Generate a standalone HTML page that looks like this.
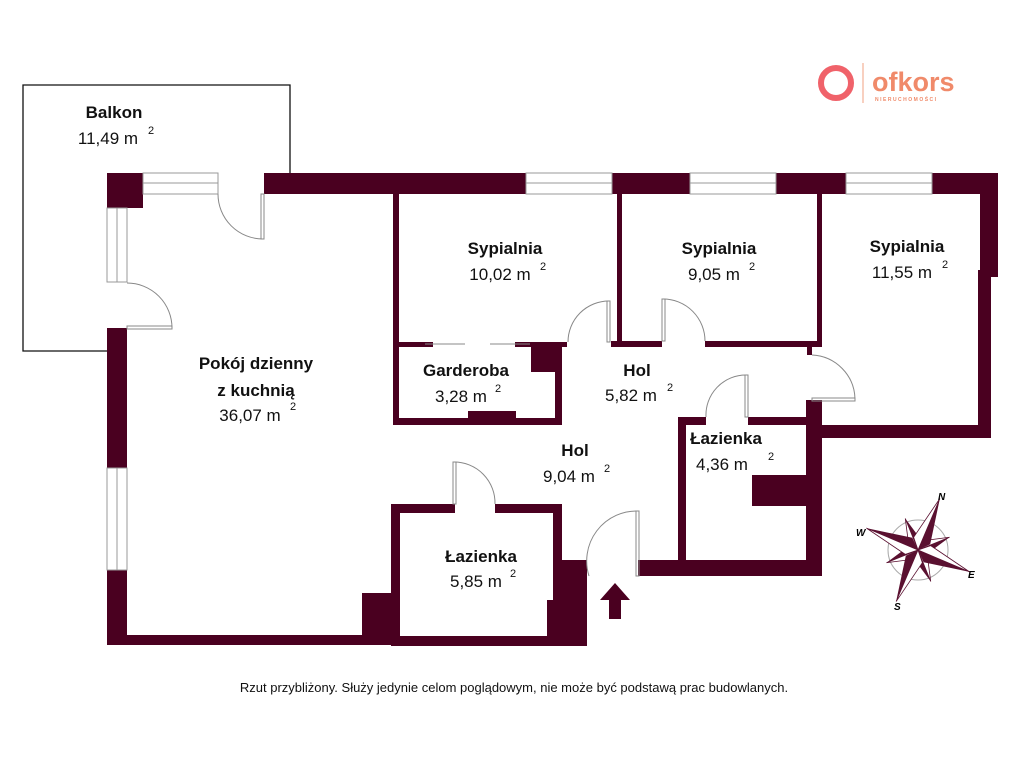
<!DOCTYPE html>
<html><head><meta charset="utf-8"><style>
html,body{margin:0;padding:0;background:#fff;width:1024px;height:768px;overflow:hidden}
svg{display:block}
.b{font:bold 17px "Liberation Sans",sans-serif;fill:#111}
.n{font:17px "Liberation Sans",sans-serif;fill:#111}
.s{font:11px "Liberation Sans",sans-serif;fill:#111}
</style></head><body>
<svg width="1024" height="768" viewBox="0 0 1024 768">
<defs>
<g id="kb"><polygon points="0,0 56,0 10,9" fill="#5a1030"/><polygon points="0,0 56,0 10,-9" fill="#fff" stroke="#5a1030" stroke-width="0.8"/></g>
<g id="ks"><polygon points="0,0 34,0 7,7" fill="#5a1030"/><polygon points="0,0 34,0 7,-7" fill="#fff" stroke="#5a1030" stroke-width="0.8"/></g>
</defs>
<polyline points="107,351 23,351 23,85 290,85 290,173" fill="none" stroke="#111" stroke-width="1.3"/>
<g fill="#4a0020">
<rect x="107" y="173" width="36" height="35"/>
<rect x="264" y="173" width="262" height="21"/>
<rect x="612" y="173" width="78" height="21"/>
<rect x="776" y="173" width="70" height="21"/>
<rect x="932" y="173" width="66" height="21"/>
<rect x="980" y="173" width="18" height="104"/>
<rect x="978" y="270" width="13" height="168"/>
<rect x="806" y="425" width="185" height="13"/>
<rect x="107" y="328" width="20" height="140"/>
<rect x="107" y="570" width="20" height="75"/>
<rect x="107" y="635" width="293" height="10"/>
<rect x="362" y="593" width="38" height="52"/>
<rect x="391" y="504" width="9" height="141"/>
<rect x="391" y="504" width="64" height="9"/>
<rect x="495" y="504" width="67" height="9"/>
<rect x="553" y="504" width="9" height="60"/>
<rect x="553" y="560" width="34" height="85"/>
<rect x="547" y="600" width="40" height="45"/>
<rect x="391" y="636" width="196" height="10"/>
<rect x="638" y="560" width="184" height="16"/>
<rect x="678" y="417" width="8" height="159"/>
<rect x="678" y="417" width="28" height="8"/>
<rect x="748" y="417" width="60" height="8"/>
<rect x="806" y="400" width="16" height="176"/>
<rect x="752" y="475" width="54" height="31"/>
<rect x="807" y="345" width="5" height="10"/>
<rect x="393" y="194" width="6" height="231"/>
<rect x="393" y="342" width="40" height="5"/>
<rect x="515" y="342" width="52" height="5"/>
<rect x="531" y="342" width="31" height="30"/>
<rect x="555" y="342" width="7" height="83"/>
<rect x="393" y="418" width="169" height="7"/>
<rect x="468" y="411" width="48" height="14"/>
<rect x="617" y="194" width="5" height="153"/>
<rect x="611" y="341" width="51" height="6"/>
<rect x="705" y="341" width="117" height="6"/>
<rect x="817" y="194" width="5" height="153"/>
<polygon points="615,583 600,600 609,600 609,619 621,619 621,600 630,600"/>
</g>
<g fill="#fff" stroke="#999" stroke-width="1">
<rect x="143" y="173" width="75" height="21"/><line x1="143" y1="183" x2="218" y2="183"/>
<rect x="526" y="173" width="86" height="21"/><line x1="526" y1="183" x2="612" y2="183"/>
<rect x="690" y="173" width="86" height="21"/><line x1="690" y1="183" x2="776" y2="183"/>
<rect x="846" y="173" width="86" height="21"/><line x1="846" y1="183" x2="932" y2="183"/>
<rect x="107" y="208" width="20" height="74"/><line x1="117" y1="208" x2="117" y2="282"/>
<rect x="107" y="468" width="20" height="102"/><line x1="117" y1="468" x2="117" y2="570"/>
</g>
<g fill="none" stroke="#888" stroke-width="1">
<path d="M218,194 A45,45 0 0 0 263,239"/><rect x="261" y="194" width="3" height="45"/>
<path d="M127,283 A45,45 0 0 1 172,328"/><rect x="127" y="326" width="45" height="3"/>
<path d="M568,342 A41,41 0 0 1 609,301"/><rect x="607" y="301" width="3" height="41"/>
<path d="M705,341 A42,42 0 0 0 663,299"/><rect x="662" y="299" width="3" height="42"/>
<path d="M812,355 A45,45 0 0 1 855,399"/><rect x="812" y="398" width="43" height="3"/>
<path d="M706,417 A40,40 0 0 1 746,375"/><rect x="745" y="375" width="3" height="42"/>
<path d="M495,504 A41,41 0 0 0 454,462"/><rect x="453" y="462" width="3" height="42"/>
<path d="M589,576 A50,50 0 0 1 638,511"/><rect x="636" y="511" width="3" height="65"/>
<line x1="425" y1="344" x2="465" y2="344"/><line x1="490" y1="344" x2="530" y2="344"/>
</g>
<g text-anchor="middle">
<text x="114" y="118" class="b">Balkon</text><text x="108" y="144" class="n">11,49 m</text><text x="151" y="134" class="s">2</text>
<text x="256" y="369" class="b">Pokój dzienny</text><text x="256" y="396" class="b">z kuchnią</text><text x="250" y="421" class="n">36,07 m</text><text x="293" y="410" class="s">2</text>
<text x="505" y="254" class="b">Sypialnia</text><text x="500" y="280" class="n">10,02 m</text><text x="543" y="270" class="s">2</text>
<text x="719" y="254" class="b">Sypialnia</text><text x="714" y="280" class="n">9,05 m</text><text x="752" y="270" class="s">2</text>
<text x="907" y="252" class="b">Sypialnia</text><text x="902" y="278" class="n">11,55 m</text><text x="945" y="268" class="s">2</text>
<text x="466" y="376" class="b">Garderoba</text><text x="461" y="402" class="n">3,28 m</text><text x="498" y="392" class="s">2</text>
<text x="637" y="376" class="b">Hol</text><text x="631" y="401" class="n">5,82 m</text><text x="670" y="391" class="s">2</text>
<text x="575" y="456" class="b">Hol</text><text x="569" y="482" class="n">9,04 m</text><text x="607" y="472" class="s">2</text>
<text x="726" y="444" class="b">Łazienka</text><text x="722" y="470" class="n">4,36 m</text><text x="771" y="460" class="s">2</text>
<text x="481" y="562" class="b">Łazienka</text><text x="476" y="587" class="n">5,85 m</text><text x="513" y="577" class="s">2</text>
<text x="514" y="692" style="font:13px 'Liberation Sans',sans-serif;fill:#111">Rzut przybliżony. Służy jedynie celom poglądowym, nie może być podstawą prac budowlanych.</text>
</g>
<circle cx="836" cy="83" r="15" fill="none" stroke="#f0626a" stroke-width="6"/>
<line x1="863" y1="63" x2="863" y2="103" stroke="#f0a080" stroke-width="1"/>
<text x="872" y="91" style="font:bold 27px 'Liberation Sans',sans-serif;fill:#f08a6a">ofkors</text>
<text x="875" y="101" style="font:bold 5px 'Liberation Sans',sans-serif;fill:#f08a6a;letter-spacing:1.5px">NIERUCHOMOŚCI</text>
<g transform="translate(918,550)">
<circle r="30" fill="none" stroke="#aaa" stroke-width="1"/>
<use href="#ks" transform="rotate(-22)"/><use href="#ks" transform="rotate(68)"/>
<use href="#ks" transform="rotate(158)"/><use href="#ks" transform="rotate(-112)"/>
<use href="#kb" transform="rotate(-67)"/><use href="#kb" transform="rotate(23)"/>
<use href="#kb" transform="rotate(113)"/><use href="#kb" transform="rotate(-157)"/>
<text x="20" y="-50" style="font:italic bold 10px 'Liberation Sans',sans-serif">N</text>
<text x="50" y="28" style="font:italic bold 10px 'Liberation Sans',sans-serif">E</text>
<text x="-24" y="60" style="font:italic bold 10px 'Liberation Sans',sans-serif">S</text>
<text x="-62" y="-14" style="font:italic bold 10px 'Liberation Sans',sans-serif">W</text>
</g>
</svg>
</body></html>
